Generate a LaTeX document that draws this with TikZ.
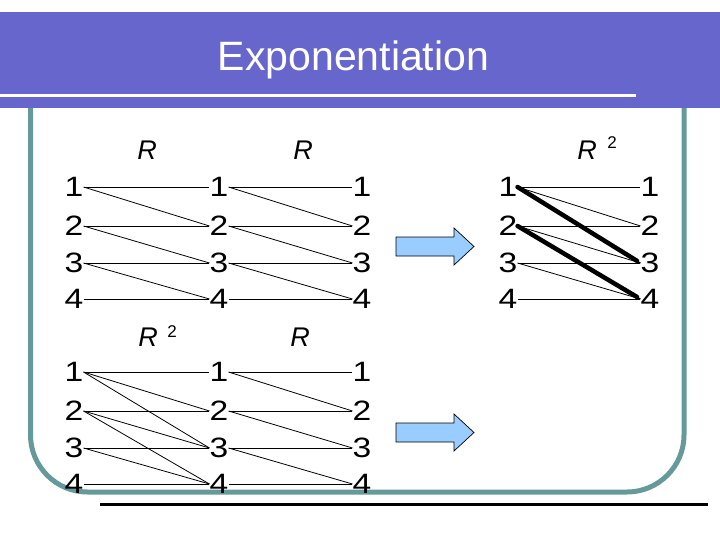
\documentclass[tikz,border=0pt]{standalone}
\usepackage{graphicx}
\usepackage{fontspec}
\setmainfont{Liberation Sans}
\definecolor{bandcol}{RGB}{102,102,204}
\definecolor{framecol}{RGB}{102,153,153}
\definecolor{arrowcol}{RGB}{153,204,255}
\newcommand\dg[1]{\scalebox{1.2}[1]{#1}}
\tikzset{
  num/.style={inner sep=0pt, font=\fontsize{28}{28}\selectfont},
  lab/.style={inner sep=0pt, font=\fontsize{27}{27}\selectfont\itshape},
  suplab/.style={inner sep=0pt, font=\fontsize{17}{17}\selectfont},
  rel/.style={line width=0.8pt, black},
  boldrel/.style={line width=4.5pt, black, line cap=round, shorten >=4pt},
  bigarrow/.style={fill=arrowcol, draw=black, line width=0.7pt},
}
\begin{document}
\begin{tikzpicture}[x=1pt,y=-1pt]
\useasboundingbox (0,0) rectangle (720,540);
% frame
\draw[framecol, line width=5pt, rounded corners=57pt] (30.5,100) -- (30.5,492) -- (684,492) -- (684,100);
% header band
\fill[bandcol] (0,12) rectangle (720,108);
\draw[white, line width=3pt] (0,95.5) -- (636,95.5);
\node[text=white, inner sep=0pt, font=\fontsize{41}{41}\selectfont, anchor=base] (title) at (353.5,71) {Exponentiation};
% bottom rule
\draw[black, line width=3pt] (100,504) -- (708,504);
% nodes: top graphs
\foreach \c/\x in {a/74,b/219,c/362,d/508,e/650}{
  \foreach \r/\y in {1/187,2/226,3/263,4/299}{
    \node[num] (\c\r) at (\x,\y) {\dg{\r}};
  }
}
% nodes: bottom graphs
\foreach \c/\x in {f/74,g/219,h/362}{
  \foreach \r/\y in {1/372,2/411,3/448,4/484}{
    \node[num] (\c\r) at (\x,\y) {\dg{\r}};
  }
}
% labels
\node[lab] (l1) at (147,150) {R};
\node[lab] (l2) at (303,150) {R};
\node[lab] (l3) at (587,150) {R};
\node[suplab] (l3s) at (612,142.5) {2};
\node[lab] (l4) at (148,337.5) {R};
\node[suplab] (l4s) at (172,332) {2};
\node[lab] (l5) at (300,337.5) {R};
% R relations
\foreach \s/\t in {1/1,1/2,2/2,2/3,3/3,3/4,4/4}{
  \draw[rel] (a\s.east) -- (b\t.west);
  \draw[rel] (b\s.east) -- (c\t.west);
  \draw[rel] (g\s.east) -- (h\t.west);
}
% R^2 relations
\foreach \s/\t in {1/1,1/2,1/3,2/2,2/3,2/4,3/3,3/4,4/4}{
  \draw[rel] (f\s.east) -- (g\t.west);
  \draw[rel] (d\s.east) -- (e\t.west);
}
\draw[boldrel] (d1.east) -- (e3.west);
\draw[boldrel] (d2.east) -- (e4.west);
% block arrows
\draw[bigarrow] (396,237) -- (454,237) -- (454,228) -- (474,246.5) -- (454,265) -- (454,256) -- (396,256) -- cycle;
\draw[bigarrow] (396,423) -- (454,423) -- (454,414) -- (474,432.5) -- (454,451) -- (454,442) -- (396,442) -- cycle;
\end{tikzpicture}
\end{document}
